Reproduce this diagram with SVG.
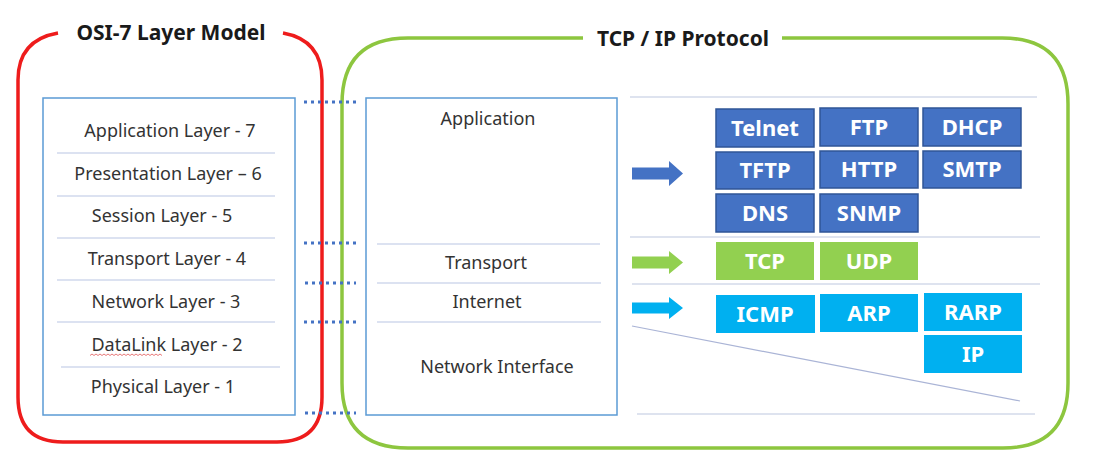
<svg xmlns="http://www.w3.org/2000/svg" width="1100" height="465" viewBox="0 0 1100 465">
<style>
.title{font-family:"Noto Sans","Liberation Sans",sans-serif;font-weight:bold;font-size:21px;fill:#1a1a1a;text-anchor:middle}
.lay{font-family:"Noto Sans","Liberation Sans",sans-serif;font-size:18px;fill:#333;text-anchor:middle}
.proto{font-family:"Noto Sans","Liberation Sans",sans-serif;font-weight:bold;font-size:22px;fill:#fff;text-anchor:middle}
.frame{fill:none;stroke:#5b9bd5;stroke-width:1.5}
.sep{stroke:#b9c6e4;stroke-width:1.2}
.rsep{stroke:#d3daea;stroke-width:1.5}
.dot{stroke:#4472c4;stroke-width:3;stroke-dasharray:3 4;fill:none}
.blue{fill:#4472c4;stroke:#2f5597;stroke-width:1.5}
.green{fill:#92d050}
.cyan{fill:#00b0f0}
</style>
<rect width="1100" height="465" fill="#fff"/>

<g id="osi-border">
<path d="M58,33 Q18,40 18,80 L18,397 Q18,442 63,442 L277,442 Q322,442 322,397 L322,80 Q322,40 283,33" fill="none" stroke="#ee1c1c" stroke-width="3.5"/>
<text class="title" x="171" y="40">OSI-7 Layer Model</text>
</g>

<g id="tcpip-border">
<path d="M583,38 L408,38 Q342,38 342,104 L342,383 Q342,448 408,448 L1003,448 Q1068,448 1068,383 L1068,104 Q1068,38 1002,38 L782,38" fill="none" stroke="#8dc63f" stroke-width="3.5"/>
<text class="title" x="683" y="46">TCP / IP Protocol</text>
</g>

<g id="osi-stack">
<rect class="frame" x="43" y="98" width="252" height="317"/>
<line class="sep" x1="57" y1="153" x2="275" y2="153"/>
<line class="sep" x1="57" y1="196" x2="275" y2="196"/>
<line class="sep" x1="57" y1="238" x2="275" y2="238"/>
<line class="sep" x1="57" y1="280" x2="275" y2="280"/>
<line class="sep" x1="57" y1="322" x2="275" y2="322"/>
<line class="sep" x1="61" y1="367" x2="280" y2="367"/>
<text class="lay" x="170" y="137">Application Layer - 7</text>
<text class="lay" x="168" y="180">Presentation Layer – 6</text>
<text class="lay" x="162" y="222">Session Layer - 5</text>
<text class="lay" x="167" y="265">Transport Layer - 4</text>
<text class="lay" x="166" y="308">Network Layer - 3</text>
<text class="lay" x="167" y="351">DataLink Layer - 2</text>
<path d="M90,355.5 l2,-1.5 l2,1.5 l2,-1.5 l2,1.5 l2,-1.5 l2,1.5 l2,-1.5 l2,1.5 l2,-1.5 l2,1.5 l2,-1.5 l2,1.5 l2,-1.5 l2,1.5 l2,-1.5 l2,1.5 l2,-1.5 l2,1.5 l2,-1.5 l2,1.5 l2,-1.5 l2,1.5 l2,-1.5 l2,1.5 l2,-1.5 l2,1.5 l2,-1.5 l2,1.5 l2,-1.5 l2,1.5 l2,-1.5 l2,1.5 l2,-1.5 l2,1.5 l2,-1.5 l2,1.5" fill="none" stroke="#e46a6a" stroke-width="0.9"/>
<text class="lay" x="163" y="393">Physical Layer - 1</text>
</g>

<g id="tcpip-stack">
<rect class="frame" x="366" y="98" width="251" height="317"/>
<line class="sep" x1="377" y1="244" x2="600" y2="244"/>
<line class="sep" x1="377" y1="283" x2="601" y2="283"/>
<line class="sep" x1="377" y1="322" x2="601" y2="322"/>
<text class="lay" x="488" y="125">Application</text>
<text class="lay" x="486" y="269">Transport</text>
<text class="lay" x="487" y="308">Internet</text>
<text class="lay" x="497" y="373">Network Interface</text>
</g>

<g id="guides">
<line class="rsep" x1="630" y1="97" x2="1037" y2="97"/>
<line class="rsep" x1="630" y1="237" x2="1040" y2="237"/>
<line class="rsep" x1="632" y1="284" x2="1040" y2="284"/>
<line class="rsep" x1="637" y1="414" x2="1035" y2="414"/>
<line x1="632" y1="326" x2="1020" y2="401" stroke="#aab4d6" stroke-width="1.2"/>
</g>

<g id="app-protocols">
<g id="telnet"><rect class="blue" x="716" y="109" width="98" height="38"/><text class="proto" x="765" y="136">Telnet</text></g>
<g id="ftp"><rect class="blue" x="820" y="108" width="98" height="38"/><text class="proto" x="869" y="135">FTP</text></g>
<g id="dhcp"><rect class="blue" x="923" y="108" width="98" height="38"/><text class="proto" x="972" y="135">DHCP</text></g>
<g id="tftp"><rect class="blue" x="716" y="152" width="98" height="37"/><text class="proto" x="765" y="178">TFTP</text></g>
<g id="http"><rect class="blue" x="820" y="151" width="98" height="37"/><text class="proto" x="869" y="177">HTTP</text></g>
<g id="smtp"><rect class="blue" x="923" y="151" width="98" height="37"/><text class="proto" x="972" y="177">SMTP</text></g>
<g id="dns"><rect class="blue" x="716" y="194" width="98" height="38"/><text class="proto" x="765" y="221">DNS</text></g>
<g id="snmp"><rect class="blue" x="820" y="194" width="98" height="38"/><text class="proto" x="869" y="221">SNMP</text></g>
</g>

<g id="transport-protocols">
<g id="tcp"><rect class="green" x="716" y="242" width="98" height="38"/><text class="proto" x="765" y="269">TCP</text></g>
<g id="udp"><rect class="green" x="820" y="242" width="98" height="38"/><text class="proto" x="869" y="269">UDP</text></g>
</g>

<g id="internet-protocols">
<g id="icmp"><rect class="cyan" x="716" y="295" width="99" height="38"/><text class="proto" x="765" y="322">ICMP</text></g>
<g id="arp"><rect class="cyan" x="820" y="294" width="98" height="38"/><text class="proto" x="869" y="321">ARP</text></g>
<g id="rarp"><rect class="cyan" x="924" y="293" width="98" height="38"/><text class="proto" x="973" y="320">RARP</text></g>
<g id="ip"><rect class="cyan" x="924" y="335" width="98" height="38"/><text class="proto" x="973" y="362">IP</text></g>
</g>

<g id="connectors">
<line class="dot" x1="304" y1="102" x2="356" y2="102"/>
<line class="dot" x1="304" y1="243" x2="356" y2="243"/>
<line class="dot" x1="305" y1="283" x2="356" y2="283"/>
<line class="dot" x1="304" y1="322" x2="356" y2="322"/>
<line class="dot" x1="305" y1="413" x2="356" y2="413"/>
<path d="M632,167.5 L669,167.5 L669,161 L683,173.5 L669,186 L669,179.5 L632,179.5 Z" fill="#4472c4"/>
<path d="M632,256.5 L669,256.5 L669,251 L683,262.5 L669,274 L669,268.5 L632,268.5 Z" fill="#92d050"/>
<path d="M632,302.5 L669,302.5 L669,297 L683,308 L669,319 L669,313.5 L632,313.5 Z" fill="#00b0f0"/>
</g>
</svg>
